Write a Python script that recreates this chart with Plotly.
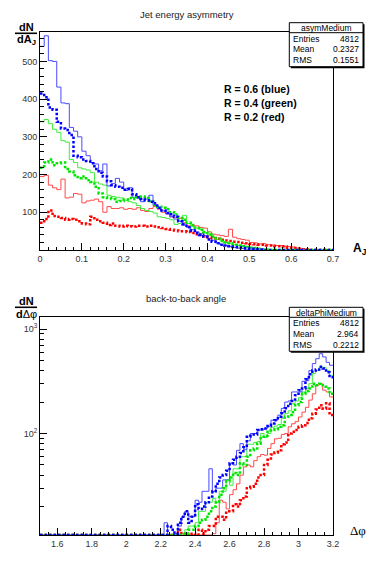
import numpy as np
import plotly.graph_objs as go
from plotly.subplots import make_subplots

# the page body adds an 8px margin, so the figure is a bit smaller than the window
OFF = 8
W, H = 374 - OFF, 568 - OFF
ML, MR, MT, MB = 40 - OFF, 41, 32 - OFF, 33
FONT = "Liberation Sans"

# --- A_J histograms: 0.01 wide bins from 0 to 0.7 ---
AJ_LO, AJ_BIN, AJ_NBINS = 0.0, 0.01, 70

aj_blue_solid = [540, 568, 502, 500, 432, 390, 388, 325, 315, 300,
                 262, 250, 232, 228, 210, 228, 170, 176, 190, 180,
                 158, 165, 140, 138, 128, 135, 145, 118, 110, 104,
                 96, 88, 82, 76, 66, 60, 54, 48, 44, 38,
                 30, 26, 18, 14, 12, 9, 7, 5, 4, 2,
                 2, 1]
aj_blue_dot = [415, 405, 378, 372, 340, 322, 318, 305, 250, 246,
               240, 236, 230, 215, 205, 195, 182, 172, 168, 165,
               160, 162, 148, 140, 135, 132, 128, 124, 112, 105,
               98, 95, 88, 76, 68, 60, 52, 45, 40, 35,
               28, 22, 18, 14, 12, 10, 8, 7, 5, 4,
               3, 2, 1]
aj_green_solid = [340, 346, 335, 320, 312, 290, 286, 240, 232, 218,
                  215, 212, 205, 180, 175, 172, 145, 142, 140, 138,
                  132, 128, 125, 118, 110, 105, 102, 98, 88, 86,
                  84, 80, 68, 70, 92, 70, 62, 58, 55, 45,
                  40, 32, 28, 24, 20, 18, 14, 12, 10, 9,
                  7, 5, 3, 2, 1]
aj_green_dot = [218, 232, 240, 225, 230, 232, 215, 208, 198, 190,
                195, 185, 180, 168, 150, 140, 138, 135, 128, 130,
                134, 138, 135, 140, 142, 138, 130, 120, 115, 112,
                108, 100, 94, 85, 80, 72, 66, 58, 54, 48,
                41, 36, 30, 24, 20, 18, 14, 12, 10, 8,
                6, 5, 3, 2, 1]
aj_red_solid = [195, 198, 172, 165, 160, 188, 138, 140, 150, 148,
                125, 130, 132, 135, 128, 100, 115, 110, 110, 112,
                108, 110, 108, 112, 105, 102, 110, 115, 108, 100,
                96, 88, 86, 84, 72, 64, 66, 64, 60, 58,
                48, 42, 40, 38, 36, 55, 34, 30, 28, 26,
                20, 19, 16, 17, 14, 13, 12, 12, 10, 9,
                8, 5, 3, 1]
aj_red_dot = [72, 82, 105, 90, 88, 85, 80, 82, 80, 76,
              70, 68, 88, 80, 76, 72, 66, 70, 64, 62,
              64, 63, 62, 64, 64, 62, 64, 62, 60, 58,
              56, 54, 52, 50, 50, 48, 45, 42, 40, 36,
              34, 32, 30, 27, 25, 24, 22, 21, 19, 18,
              16, 15, 14, 14, 12, 12, 10, 10, 9, 6,
              5, 4, 2, 1]

# --- delta phi histograms: 0.02 wide bins from 1.5 to 3.2, listed from 2.20 ---
DPHI_LO, DPHI_BIN, DPHI_NBINS = 1.5, 0.02, 85
DPHI_FIRST = 2.20

dphi_blue_solid = [0, 14, 0, 0, 11, 13, 16, 18, 16, 16,
                   23, 22, 28, 28, 46, 28, 30, 30, 36, 36,
                   52, 50, 69, 80, 70, 85, 100, 100, 108, 108,
                   112, 116, 134, 134, 150, 174, 200, 205, 250, 250,
                   250, 316, 320, 400, 467, 520, 580, 540, 480, 450]
dphi_blue_dot = [0, 0, 13, 12, 11, 14, 16, 18, 14, 16,
                 21, 19, 20, 22, 25, 28, 33, 38, 40, 44,
                 52, 56, 60, 65, 74, 93, 95, 98, 108, 110,
                 112, 118, 125, 134, 145, 156, 175, 193, 205, 233,
                 260, 270, 330, 370, 400, 410, 436, 420, 385, 345]
dphi_green_solid = [0, 0, 0, 0, 0, 0, 11, 12, 13, 13,
                    14, 18, 18, 22, 22, 24, 22, 28, 28, 36,
                    32, 46, 46, 60, 60, 79, 79, 82, 84, 100,
                    92, 100, 115, 118, 122, 140, 155, 165, 193, 205,
                    220, 250, 270, 300, 375, 400, 435, 430, 400, 360]
dphi_green_dot = [0, 0, 0, 0, 0, 0, 0, 11, 12, 12,
                  13, 14, 15, 16, 18, 20, 22, 26, 30, 35,
                  38, 42, 40, 52, 50, 60, 69, 72, 80, 93,
                  95, 107, 108, 110, 116, 120, 145, 150, 160, 186,
                  200, 240, 255, 270, 300, 290, 300, 280, 270, 240]
dphi_red_solid = [0, 0, 0, 0, 0, 0, 0, 0, 0, 0,
                  0, 0, 0, 0, 0, 11, 14, 23, 22, 19,
                  26, 29, 33, 40, 48, 50, 48, 55, 60, 63,
                  62, 72, 80, 89, 90, 98, 100, 116, 124, 130,
                  144, 160, 178, 209, 240, 290, 300, 260, 250, 224]
dphi_red_dot = [0, 0, 0, 0, 0, 12, 11, 0, 0, 11,
                0, 12, 11, 12, 13, 13, 16, 16, 15, 18,
                18, 21, 20, 23, 25, 30, 31, 33, 38, 40,
                50, 56, 63, 66, 69, 79, 82, 100, 104, 108,
                116, 120, 126, 140, 155, 170, 186, 173, 195, 150]

AJ_RANGE = [0, 578]
DPHI_LOGRANGE = [1.029, 3.115]

SERIES_STYLE = [
    # (aj data, dphi data, colour, width, dash)
    (aj_red_solid, dphi_red_solid, "#ff4a4a", 1, "solid"),
    (aj_green_solid, dphi_green_solid, "#3cf03c", 1, "solid"),
    (aj_blue_solid, dphi_blue_solid, "#4a4aff", 1, "solid"),
    (aj_red_dot, dphi_red_dot, "#ff0000", 2.5, "2.5px,2px"),
    (aj_green_dot, dphi_green_dot, "#00e600", 2.5, "2.5px,2px"),
    (aj_blue_dot, dphi_blue_dot, "#0000ff", 2.5, "2.5px,2px"),
]


def pad(vals, nbins, lead=0):
    vals = np.asarray(vals, dtype=float)
    return np.concatenate([np.zeros(lead), vals, np.zeros(nbins - lead - len(vals))])


def step_xy(lo, width, vals):
    edges = lo + width * np.arange(len(vals) + 1)
    return edges, np.append(vals, vals[-1])


# window pixel -> paper coordinates
def px_x(px):
    return (px - OFF - ML) / (W - ML - MR)


def px_y(py):
    return (H - MB - (py - OFF)) / (H - MT - MB)


fig = make_subplots(rows=2, cols=1)

lead = int(round((DPHI_FIRST - DPHI_LO) / DPHI_BIN))
floor = 10 ** DPHI_LOGRANGE[0]
for aj, dphi, col, wd, dash in SERIES_STYLE:
    x, y = step_xy(AJ_LO, AJ_BIN, pad(aj, AJ_NBINS))
    fig.add_trace(go.Scatter(x=x, y=y, mode="lines", line_shape="hv",
                             line=dict(color=col, width=wd, dash=dash),
                             showlegend=False, hoverinfo="skip"), row=1, col=1)
    v = pad(dphi, DPHI_NBINS, lead)
    v = np.where(v > 0, v, floor)  # empty bins sit on the frame, as in ROOT
    x, y = step_xy(DPHI_LO, DPHI_BIN, v)
    fig.add_trace(go.Scatter(x=x, y=y, mode="lines", line_shape="hv",
                             line=dict(color=col, width=wd, dash=dash),
                             showlegend=False, hoverinfo="skip"), row=2, col=1)

axis_common = dict(
    showline=True, linecolor="black", linewidth=1, mirror=True,
    showgrid=False, zeroline=False, ticks="inside", tickcolor="black",
    ticklen=7, tickwidth=1, tickfont=dict(family=FONT, size=9, color="#333"),
)

fig.update_xaxes(axis_common)
fig.update_yaxes(axis_common)

fig.update_layout(
    xaxis=dict(domain=[0, 1], range=[0, 0.7], tickvals=[0, 0.1, 0.2, 0.3, 0.4, 0.5, 0.6, 0.7],
               ticktext=["0", "0.1", "0.2", "0.3", "0.4", "0.5", "0.6", "0.7"],
               minor=dict(dtick=0.02, tick0=0, ticklen=3.5, ticks="inside", tickcolor="black")),
    yaxis=dict(domain=[px_y(250), 1], range=AJ_RANGE, tickvals=[100, 200, 300, 400, 500],
               minor=dict(dtick=20, tick0=0, ticklen=3.5, ticks="inside", tickcolor="black")),
    xaxis2=dict(domain=[0, 1], range=[1.5, 3.2],
                tickvals=[1.6, 1.8, 2.0, 2.2, 2.4, 2.6, 2.8, 3.0, 3.2],
                ticktext=["1.6", "1.8", "2", "2.2", "2.4", "2.6", "2.8", "3", "3.2"],
                minor=dict(dtick=0.05, tick0=1.5, ticklen=3.5, ticks="inside", tickcolor="black")),
    yaxis2=dict(domain=[0, px_y(317)], type="log", range=DPHI_LOGRANGE,
                tickvals=[100, 1000], ticktext=["10<sup>2</sup>", "10<sup>3</sup>"],
                minor=dict(tickvals=[20, 30, 40, 50, 60, 70, 80, 90,
                                     200, 300, 400, 500, 600, 700, 800, 900],
                           ticklen=3.5, ticks="inside", tickcolor="black")),
)

shapes = []
annotations = []


def text(x, y, s, size=9, bold=False, xanchor="center", family=FONT, color="black", shift=0):
    # shift: extra pixels to the right, keeps the anchor inside the paper
    if bold:
        s = "<b>" + s + "</b>"
    annotations.append(dict(x=px_x(x), y=px_y(y), xref="paper", yref="paper", text=s,
                            showarrow=False, xanchor=xanchor, yanchor="middle", xshift=shift,
                            font=dict(family=family, size=size, color=color)))


def stat_box(top, title, rows):
    x0, x1 = 289.3, 363
    bottom = top + 44
    shapes.append(dict(type="rect", xref="paper", yref="paper",
                       x0=px_x(x0 + 1.5), x1=px_x(x1 + 1.5), y0=px_y(bottom + 1.5), y1=px_y(top + 1.5),
                       fillcolor="black", line=dict(width=0)))
    shapes.append(dict(type="rect", xref="paper", yref="paper",
                       x0=px_x(x0), x1=px_x(x1), y0=px_y(bottom), y1=px_y(top),
                       fillcolor="white", line=dict(color="black", width=1)))
    shapes.append(dict(type="line", xref="paper", yref="paper",
                       x0=px_x(x0), x1=px_x(x1), y0=px_y(top + 10), y1=px_y(top + 10),
                       line=dict(color="black", width=1)))
    text(x0, top + 5.2, title, size=8.5, shift=(x1 - x0) / 2)
    for i, (name, val) in enumerate(rows):
        yy = top + 16 + 10.8 * i
        text(x0 + 2, yy, name, size=8.5, xanchor="left")
        text(x0, yy, val, size=8.5, xanchor="right", shift=x1 - x0 - 2)


def fraction_title(ybar, top_txt, bot_txt, bot_family=FONT):
    shapes.append(dict(type="line", xref="paper", yref="paper",
                       x0=px_x(15), x1=px_x(37), y0=px_y(ybar), y1=px_y(ybar),
                       line=dict(color="black", width=1.6)))
    text(26, ybar - 6, top_txt, size=11, bold=True)
    text(26, ybar + 7, bot_txt, size=11, family=bot_family)


# top panel texts
text(187, 15, "Jet energy asymmetry", size=9.5, color="#222")
stat_box(22.7, "asymMedium", [("Entries", "4812"), ("Mean", "0.2327"), ("RMS", "0.1551")])
text(222, 89, "R = 0.6 (blue)", size=10.5, bold=True, xanchor="left")
text(222, 103, "R = 0.4 (green)", size=10.5, bold=True, xanchor="left")
text(222, 117, "R = 0.2 (red)", size=10.5, bold=True, xanchor="left")
fraction_title(33.3, "dN", "<b>dA<sub>J</sub></b>")
text(333, 249, "A<sub>J</sub>", size=12, bold=True, shift=27)

# bottom panel texts
text(186, 298, "back-to-back angle", size=9.5, color="#222")
stat_box(307.3, "deltaPhiMedium", [("Entries", "4812"), ("Mean", "2.964"), ("RMS", "0.2212")])
fraction_title(307.3, "dN", "<b>d</b>Δφ")
text(333, 530, "Δφ", size=13, family="Liberation Serif", shift=25)

fig.update_layout(
    width=W, height=H,
    margin=dict(l=ML, r=MR, t=MT, b=MB),
    paper_bgcolor="white", plot_bgcolor="white",
    shapes=shapes, annotations=annotations,
    showlegend=False,
)

fig.write_html("out.html")
